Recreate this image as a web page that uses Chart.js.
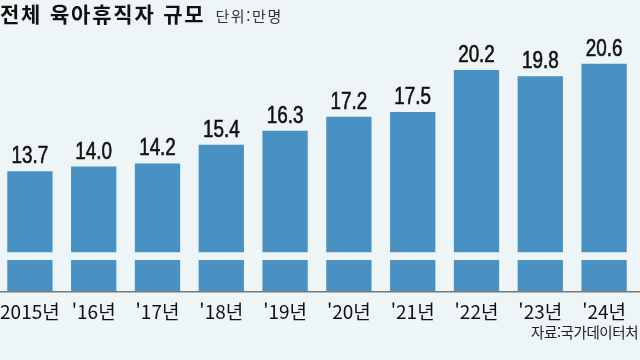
<!DOCTYPE html>
<html lang="ko">
<head>
<meta charset="utf-8">
<script src="https://cdn.jsdelivr.net/npm/chart.js@4"></script>
<style>
  html, body { margin: 0; padding: 0; }
  body { width: 640px; height: 360px; overflow: hidden; background: #eef5f6; position: relative;
         font-family: 'Noto Sans CJK KR', sans-serif; }
  #wrap { position: absolute; left: -2px; top: 0; width: 642px; height: 360px; }
  .title { position: absolute; left: 0; top: -2px; font-size: 21px; font-weight: 700; color: #111; white-space: nowrap; letter-spacing: 1.8px; }
  .unit { font-size: 15px; font-weight: 400; color: #333; margin-left: 10px; letter-spacing: 1.6px; }
  .source { position: absolute; left: 531px; top: 321px; font-size: 14.5px; color: #222; white-space: nowrap; letter-spacing: -0.4px; }
</style>
</head>
<body>
<div id="wrap"><canvas id="chart" width="642" height="360"></canvas></div>
<div class="title">전체 육아휴직자 규모<span class="unit">단위:만명</span></div>
<div class="source">자료:국가데이터처</div>
<script>
// ── Data ───────────────────────────────────────────────
const years  = ['2015년', "'16년", "'17년", "'18년", "'19년", "'20년", "'21년", "'22년", "'23년", "'24년"];
const values = [13.7, 14.0, 14.2, 15.4, 16.3, 17.2, 17.5, 20.2, 19.8, 20.6];

const BG = '#eef5f6';
const BAR = '#4a91c3';

// white gap across the bars (broken axis)
const axisBreak = {
  id: 'axisBreak',
  afterDatasetsDraw(chart) {
    const { ctx, chartArea, scales: { y } } = chart;
    const top = y.getPixelForValue(8.5);
    const bottom = y.getPixelForValue(8.0);
    ctx.save();
    ctx.fillStyle = BG;
    ctx.fillRect(chartArea.left, top, chartArea.right - chartArea.left, bottom - top);
    // baseline across the whole width
    ctx.strokeStyle = '#777';
    ctx.lineWidth = 1.5;
    ctx.beginPath();
    ctx.moveTo(0, y.bottom + 0.5);
    ctx.lineTo(chart.width, y.bottom + 0.5);
    ctx.stroke();
    ctx.restore();
  }
};

// value above each bar, squeezed horizontally like the condensed face
const valueLabels = {
  id: 'valueLabels',
  afterDatasetsDraw(chart) {
    const { ctx } = chart;
    const meta = chart.getDatasetMeta(0);
    const sx = 0.82;
    ctx.save();
    ctx.fillStyle = '#111';
    ctx.strokeStyle = '#111';
    ctx.lineWidth = 0.6;
    ctx.font = "23px 'Liberation Sans', Arial, sans-serif";
    ctx.textAlign = 'center';
    ctx.textBaseline = 'alphabetic';
    meta.data.forEach((bar, i) => {
      const txt = values[i].toFixed(1);
      ctx.save();
      ctx.translate(bar.x, bar.y - 8);
      ctx.scale(sx, 1);
      ctx.fillText(txt, 0, 0);
      ctx.strokeText(txt, 0, 0);
      ctx.restore();
    });
    ctx.restore();
  }
};

new Chart(document.getElementById('chart'), {
  type: 'bar',
  data: {
    labels: years,
    datasets: [{
      data: values,
      backgroundColor: BAR,
      borderWidth: 0,
      categoryPercentage: 1,
      barPercentage: 0.71,
    }],
  },
  options: {
    responsive: false,
    animation: false,
    devicePixelRatio: 1,
    layout: { padding: { top: 42, left: 0, right: 4, bottom: 36 } },
    plugins: { legend: { display: false }, tooltip: { enabled: false } },
    scales: {
      x: {
        grid: { display: false },
        border: { display: false },
        ticks: {
          color: '#111',
          padding: 1,
          maxRotation: 0,
          autoSkip: false,
          font: { family: "'Liberation Sans Narrow', 'Noto Sans CJK KR', sans-serif", size: 19 },
        },
      },
      y: {
        display: false,
        min: 6,
        max: 22,
      },
    },
  },
  plugins: [axisBreak, valueLabels],
});
</script>
</body>
</html>
